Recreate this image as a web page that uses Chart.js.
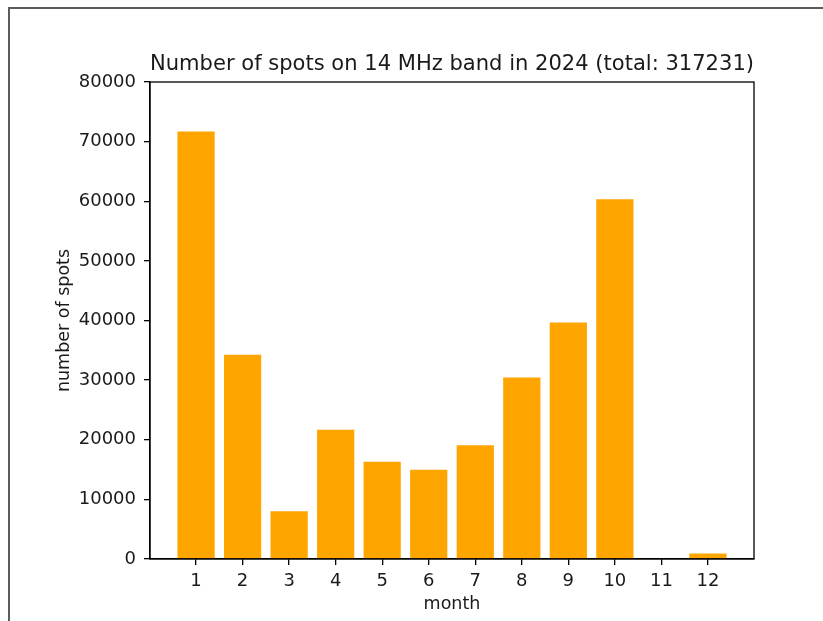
<!DOCTYPE html>
<html>
<head>
<meta charset="utf-8">
<script src="https://cdn.jsdelivr.net/npm/chart.js@4.4.1/dist/chart.umd.min.js"></script>
<style>
    html, body { margin: 0; padding: 0; background: #fff; }
    #wrap { position: relative; width: 823px; height: 621px; overflow: hidden; }
    #frame {
        position: absolute; left: 8px; top: 7px; right: -4px; bottom: -4px;
        border-top: 2px solid #5c5c5c; border-left: 2px solid #5c5c5c;
        pointer-events: none;
    }
</style>
</head>
<body>
<div id="wrap">
    <canvas id="spotsChart" width="823" height="621"></canvas>
    <div id="frame"></div>
</div>
<script>
// --- dados ---
const months = [1, 2, 3, 4, 5, 6, 7, 8, 9, 10, 11, 12];
const spotCounts = [71700, 34260, 8020, 21680, 16310, 14970, 19090, 30450, 39680, 60320, 0, 920];
const yTicks = [0, 10000, 20000, 30000, 40000, 50000, 60000, 70000, 80000];
const chartTitle = 'Number of spots on 14 MHz band in 2024 (total: 317231)';

const FONT = 'DejaVu Sans';
const INK = '#1a1a1a';

// moldura do eixo (spines de cima e da direita)
const axesBox = {
    id: 'axesBox',
    afterDraw(chart) {
        const { ctx, chartArea: a } = chart;
        ctx.save();
        ctx.strokeStyle = '#000';
        ctx.lineWidth = 1.3;
        ctx.strokeRect(a.left, a.top, a.right - a.left, a.bottom - a.top);
        ctx.restore();
    }
};

const ctx = document.getElementById('spotsChart').getContext('2d');
new Chart(ctx, {
    type: 'bar',
    data: {
        datasets: [{
            data: months.map((m, i) => ({ x: m, y: spotCounts[i] })),
            backgroundColor: '#FFA500',
            borderWidth: 0,
            barPercentage: 0.8,
            categoryPercentage: 1.0
        }]
    },
    options: {
        responsive: false,
        animation: false,
        layout: { padding: { left: 0, right: 69, top: 0, bottom: 0 } },
        plugins: {
            legend: { display: false },
            tooltip: { enabled: false },
            title: {
                display: true,
                text: chartTitle,
                fullSize: false,
                color: INK,
                font: { family: FONT, size: 22, weight: 'normal' },
                padding: { top: 51, bottom: 4.6 }
            }
        },
        scales: {
            x: {
                type: 'linear',
                min: 0.01,
                max: 12.99,
                offset: false,
                afterBuildTicks: s => { s.ticks = months.map(v => ({ value: v })); },
                afterFit: s => { s.height = 62; },
                ticks: {
                    color: INK,
                    font: { family: FONT, size: 18 },
                    padding: 6,
                    maxRotation: 0,
                    autoSkip: false,
                    callback: v => String(v)
                },
                grid: { offset: false, drawOnChartArea: false, drawTicks: true, tickLength: 6, color: '#000', lineWidth: 1.3 },
                border: { display: true, color: '#000', width: 1.3 },
                title: {
                    display: true,
                    text: 'month',
                    color: INK,
                    font: { family: FONT, size: 17.5 },
                    padding: { top: 0, bottom: 6 }
                }
            },
            y: {
                min: 0,
                max: 80000,
                afterBuildTicks: s => { s.ticks = yTicks.map(v => ({ value: v })); },
                afterFit: s => { s.width = 150; },
                ticks: {
                    color: INK,
                    font: { family: FONT, size: 18 },
                    padding: 8,
                    callback: v => String(v)
                },
                grid: { drawOnChartArea: false, drawTicks: true, tickLength: 6, color: '#000', lineWidth: 1.3 },
                border: { display: true, color: '#000', width: 1.3 },
                title: {
                    display: true,
                    text: 'number of spots',
                    color: INK,
                    font: { family: FONT, size: 17.5 },
                    padding: { top: 54, bottom: 0 }
                }
            }
        }
    },
    plugins: [axesBox]
});
</script>
</body>
</html>
